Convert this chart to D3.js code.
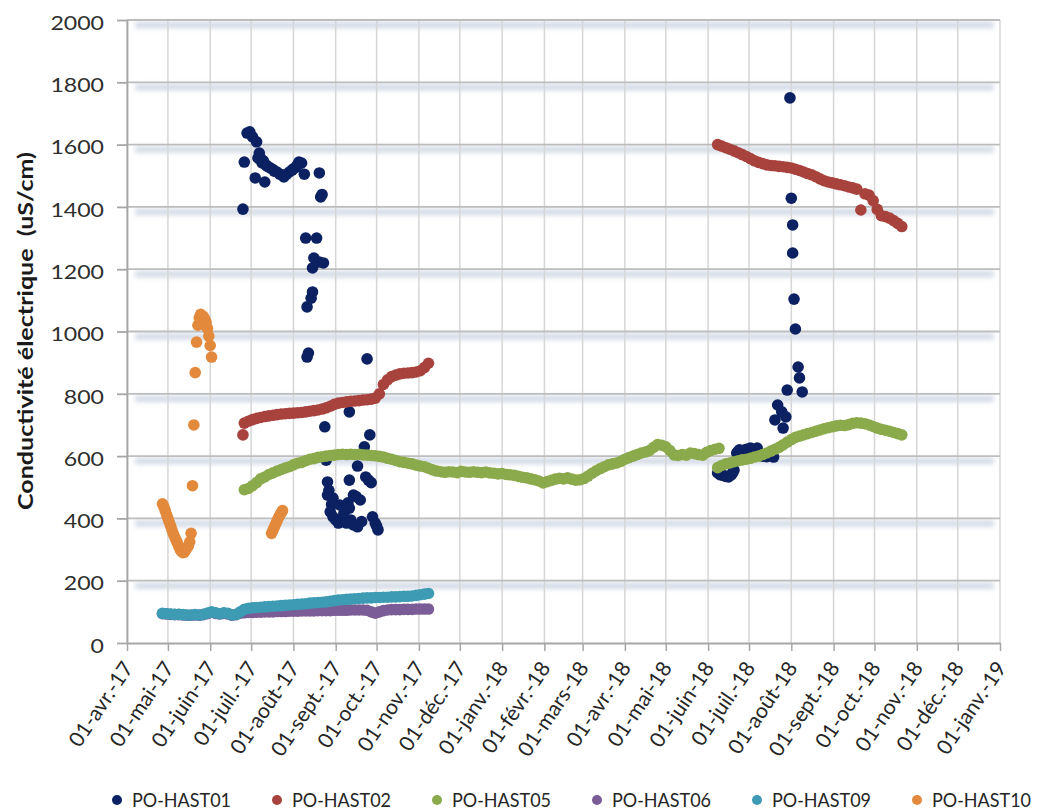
<!DOCTYPE html>
<html>
<head>
<meta charset="utf-8">
<script src="https://cdn.jsdelivr.net/npm/d3@7"></script>
<style>
  body { margin: 0; background: #fff; }
  svg { display: block; }
</style>
</head>
<body>
<svg id="chart" width="1045" height="812"></svg>
<script>
// ---- Data -------------------------------------------------------------
const seriesNames = ["PO-HAST01", "PO-HAST02", "PO-HAST05", "PO-HAST06", "PO-HAST09", "PO-HAST10"];
const yTicks = [0, 200, 400, 600, 800, 1000, 1200, 1400, 1600, 1800, 2000];
const monthsShort = ["janv.", "févr.", "mars", "avr.", "mai", "juin", "juil.", "août", "sept.", "oct.", "nov.", "déc."];
const axisStart = "2017-04-01";
const axisEnd = "2019-01-01";

// PO-HAST01: manual readings (date, µS/cm)
const hast01Readings = [
  ["2017-06-25",1393],["2017-06-26",1544],["2017-06-28",1637],["2017-06-30",1641],["2017-07-02",1625],
  ["2017-07-04",1493],["2017-07-05",1609],["2017-07-06",1557],["2017-07-07",1573],["2017-07-08",1555],
  ["2017-07-09",1541],["2017-07-10",1548],["2017-07-11",1480],["2017-07-12",1534],["2017-07-13",1530],
  ["2017-07-15",1525],["2017-07-17",1520],["2017-07-18",1515],["2017-07-20",1512],["2017-07-22",1505],
  ["2017-07-24",1502],["2017-07-25",1496],["2017-07-27",1505],["2017-07-29",1512],["2017-07-31",1518],
  ["2017-08-01",1522],["2017-08-03",1528],["2017-08-04",1535],["2017-08-05",1544],["2017-08-06",1540],
  ["2017-08-07",1541],["2017-08-09",1505],["2017-08-10",1300],["2017-08-11",1079],["2017-08-11",918],
  ["2017-08-12",931],["2017-08-14",1107],["2017-08-15",1127],["2017-08-15",1204],["2017-08-16",1236],
  ["2017-08-18",1300],["2017-08-20",1509],["2017-08-20",1223],["2017-08-21",1432],["2017-08-22",1440],
  ["2017-08-23",1220],
  ["2017-08-24",694],["2017-08-25",587],["2017-08-26",517],["2017-08-26",475],["2017-08-27",490],
  ["2017-08-28",421],["2017-08-29",445],["2017-08-30",465],["2017-08-30",405],["2017-09-01",395],
  ["2017-09-03",385],["2017-09-04",443],["2017-09-06",400],["2017-09-07",417],["2017-09-09",385],
  ["2017-09-10",450],["2017-09-11",742],["2017-09-11",523],["2017-09-11",433],["2017-09-12",395],
  ["2017-09-14",475],["2017-09-14",379],["2017-09-16",470],["2017-09-17",568],["2017-09-17",373],
  ["2017-09-19",459],["2017-09-20",390],["2017-09-22",630],["2017-09-23",533],["2017-09-24",912],
  ["2017-09-25",523],["2017-09-26",668],["2017-09-27",515],["2017-09-28",405],["2017-09-30",385],
  ["2017-10-01",375],["2017-10-02",363],
  ["2018-06-08",546],["2018-06-10",540],["2018-06-12",538],["2018-06-14",535],["2018-06-16",533],
  ["2018-06-18",540],["2018-06-19",546],["2018-06-20",555],["2018-06-22",610],["2018-06-23",615],
  ["2018-06-24",620],["2018-06-26",612],["2018-06-28",620],["2018-06-30",623],["2018-07-02",626],
  ["2018-07-04",622],["2018-07-06",618],["2018-07-07",626],["2018-07-09",605],["2018-07-11",600],
  ["2018-07-14",598],["2018-07-16",603],["2018-07-18",610],["2018-07-19",597],["2018-07-20",716],
  ["2018-07-22",764],["2018-07-25",742],["2018-07-26",690],["2018-07-28",726],["2018-07-29",812],
  ["2018-07-31",1750],["2018-08-01",1428],["2018-08-02",1342],["2018-08-02",1252],["2018-08-03",1104],
  ["2018-08-04",1008],["2018-08-06",886],["2018-08-07",851],["2018-08-09",806]
];

// PO-HAST02: logger, one reading every 3 days
const hast02First = [["2017-06-25", 668]];
const hast02_2017 = [
  706,712,717,721,724,727,729,731,733,735,
  736,737,738,739,740,742,744,746,748,751,
  755,760,766,770,772,774,776,777,778,780,
  781,783,786,800,830,845,855,860,864,866,
  867,868,870,874,884,898
];
const hast02_2018 = [
  1600,1595,1590,1585,1580,1574,1568,1562,1555,1548,
  1543,1539,1535,1533,1532,1530,1529,1527,1525,1521,
  1517,1512,1507,1503,1497,1490,1484,1480,1477,1474,
  1471,1468,1464,1461,1457,
  1390,1442,1438,1420,1392,1372,1369,1364,1356,1347,1337
];

// PO-HAST05: logger, one reading every 3 days
const hast05_2017 = [
  492,496,505,515,527,533,541,546,552,557,
  562,566,572,577,580,585,590,592,596,598,
  600,602,603,605,606,605,606,605,606,604,
  603,602,601,599,597,593,590,586,582,580,
  577,575,571,568,566,561,556,552,550,548,
  550,549,547,551,549,548,550,548,547,549,
  546,545,543,544,541,540,538,535,532,530,
  527,524,520,514,518,522,526,529,527,530,
  526,523,524,528,536,545,553,560,566,572,
  575,578,583,590,595,600,605,610,613,618,
  628,637,635,630,618,604,602,605,603,610,
  608,605,603,612,618,622,625
];
const hast05_2018 = [
  563,570,575,578,582,585,588,590,593,597,
  600,605,610,616,622,628,636,645,653,660,
  664,668,672,676,680,684,688,691,694,697,
  699,698,701,705,707,706,704,700,695,690,
  686,683,680,676,672,668
];

// PO-HAST06 and PO-HAST09: logger, one reading every 3 days
const hast06_2017 = [
  94,93,92,91,91,90,89,89,90,89,
  91,94,98,95,93,95,93,89,91,96,
  97,98,98,99,99,100,100,100,101,101,
  101,102,102,102,103,103,103,103,104,104,
  104,104,105,105,105,105,106,106,106,106,
  105,100,96,100,104,106,107,107,107,108,
  108,108,109,109,109,109
];
const hast09_2017 = [
  95,94,93,92,92,91,90,90,91,90,
  92,96,100,97,94,97,95,90,92,100,
  108,111,113,114,115,116,117,118,119,120,
  121,122,123,124,125,126,128,129,130,131,
  132,134,136,138,139,140,141,142,143,144,
  145,145,146,146,147,147,148,148,149,150,
  150,151,153,155,157,159
];

// PO-HAST10: daily readings
const hast10_spring = [
  447,438,425,412,400,388,375,362,350,340,
  330,320,310,300,294,290,292,298,305,312,
  325,352,505,700,868,966,1020,1045,1055,1050,
  1048,1040,1030,1010,985,955,918
];
const hast10_july = [352,362,372,382,392,402,410,418,425];

// ---- Helpers ----------------------------------------------------------
const parseDay = d3.utcParse("%Y-%m-%d");
function logged(start, stepDays, values) {
  const t0 = parseDay(start);
  return values.map((v, i) => ({ date: d3.utcDay.offset(t0, i * stepDays), value: v }));
}
function listed(pairs) {
  return pairs.map(([d, v]) => ({ date: parseDay(d), value: v }));
}

const series = [
  listed(hast01Readings),
  [...listed(hast02First), ...logged("2017-06-26", 3, hast02_2017), ...logged("2018-06-08", 3, hast02_2018)],
  [...logged("2017-06-26", 3, hast05_2017), ...logged("2018-06-08", 3, hast05_2018)],
  logged("2017-04-27", 3, hast06_2017),
  logged("2017-04-27", 3, hast09_2017),
  [...logged("2017-04-27", 1, hast10_spring), ...logged("2017-07-16", 1, hast10_july)]
].map((points, i) => ({ name: seriesNames[i], points }));

const colors = ["#0b2161", "#a8423d", "#8aaa4b", "#7a5c96", "#3d9bb3", "#e3893c"];

const fr = d3.timeFormatLocale({
  dateTime: "%A %e %B %Y à %X", date: "%d/%m/%Y", time: "%H:%M:%S", periods: ["AM", "PM"],
  days: ["dimanche","lundi","mardi","mercredi","jeudi","vendredi","samedi"],
  shortDays: ["dim.","lun.","mar.","mer.","jeu.","ven.","sam."],
  months: ["janvier","février","mars","avril","mai","juin","juillet","août","septembre","octobre","novembre","décembre"],
  shortMonths: monthsShort
});
const fmtTick = fr.utcFormat("%d-%b-%y");

// ---- Chart ------------------------------------------------------------
const svg = d3.select("#chart");
const plot = { left: 127, right: 1000, top: 20, bottom: 643 };
const FONT = "Lato, 'Open Sans', sans-serif";

const x = d3.scaleUtc().domain([parseDay(axisStart), parseDay(axisEnd)]).range([plot.left, plot.right]);
const y = d3.scaleLinear().domain([0, 2000]).range([plot.bottom, plot.top]);
const months = x.ticks(d3.utcMonth.every(1));

// soft shadow under the horizontal gridlines
const defs = svg.append("defs");
defs.append("filter").attr("id", "haze")
  .attr("filterUnits", "userSpaceOnUse")
  .attr("x", 0).attr("y", 0).attr("width", 1045).attr("height", 812)
  .append("feGaussianBlur").attr("stdDeviation", 2.6);

svg.append("g").attr("filter", "url(#haze)")
  .selectAll("line").data(yTicks.filter(v => v > 0)).join("line")
  .attr("x1", plot.left + 8).attr("x2", plot.right - 6)
  .attr("y1", v => y(v) + 5).attr("y2", v => y(v) + 5)
  .attr("stroke", "#d0d8e4").attr("stroke-width", 6);

// vertical gridlines
svg.append("g").selectAll("line").data(months).join("line")
  .attr("x1", d => x(d)).attr("x2", d => x(d))
  .attr("y1", plot.top).attr("y2", plot.bottom)
  .attr("stroke", "#d6d6d6").attr("stroke-width", 1.5);

// horizontal gridlines
svg.append("g").selectAll("line").data(yTicks.filter(v => v > 0)).join("line")
  .attr("x1", plot.left).attr("x2", plot.right)
  .attr("y1", v => y(v)).attr("y2", v => y(v))
  .attr("stroke", "#bdbdbd").attr("stroke-width", 1.8);

// axes
const gy = svg.append("g").attr("transform", `translate(${plot.left},0)`)
  .call(d3.axisLeft(y).tickValues(yTicks).tickFormat(d3.format("d"))
    .tickSizeInner(10).tickSizeOuter(0).tickPadding(13));
gy.select(".domain").attr("stroke", "#a6a6a6").attr("stroke-width", 1.8);
gy.selectAll(".tick line").attr("stroke", "#a6a6a6").attr("stroke-width", 1.8);
gy.selectAll(".tick text")
  .attr("font-family", FONT).attr("font-size", 20).attr("fill", "#2e2e2e")
  .attr("dy", "0.46em")
  .attr("textLength", d => String(d).length * 13.4)
  .attr("lengthAdjust", "spacingAndGlyphs");

const gx = svg.append("g").attr("transform", `translate(0,${plot.bottom})`)
  .call(d3.axisBottom(x).ticks(d3.utcMonth.every(1)).tickFormat(fmtTick).tickSizeInner(8).tickSizeOuter(0));
gx.select(".domain").attr("stroke", "#a6a6a6").attr("stroke-width", 1.8);
gx.selectAll(".tick line").attr("stroke", "#a6a6a6").attr("stroke-width", 1.5);
gx.selectAll(".tick text")
  .attr("font-family", FONT).attr("font-size", 21).attr("fill", "#262626")
  .attr("x", 0).attr("y", 0).attr("dy", null)
  .attr("text-anchor", "end")
  .attr("transform", "translate(6.5,25) rotate(-56)");

// y-axis title (keeps its double space)
svg.append("text")
  .attr("transform", "translate(33,331) rotate(-90)")
  .attr("text-anchor", "middle")
  .style("white-space", "pre")
  .attr("font-family", FONT).attr("font-weight", 700).attr("font-size", 21)
  .attr("fill", "#1a1a1a")
  .attr("textLength", 358).attr("lengthAdjust", "spacingAndGlyphs")
  .text("Conductivité électrique  (uS/cm)");

// markers
const gDots = svg.append("g");
series.forEach((s, k) => {
  gDots.append("g").attr("fill", colors[k])
    .selectAll("circle").data(s.points).join("circle")
    .attr("cx", d => x(d.date)).attr("cy", d => y(d.value)).attr("r", 5.8);
});

// legend
const legend = svg.append("g").attr("transform", "translate(0,800)");
const item = legend.selectAll("g").data(series).join("g")
  .attr("transform", (d, i) => `translate(${117 + i * 160},0)`);
item.append("circle").attr("r", 5).attr("fill", (d, i) => colors[i]);
item.append("text")
  .attr("x", 15).attr("y", 7)
  .attr("font-family", FONT).attr("font-size", 19).attr("fill", "#262626")
  .attr("textLength", 99).attr("lengthAdjust", "spacingAndGlyphs")
  .text(d => d.name);
</script>
</body>
</html>
